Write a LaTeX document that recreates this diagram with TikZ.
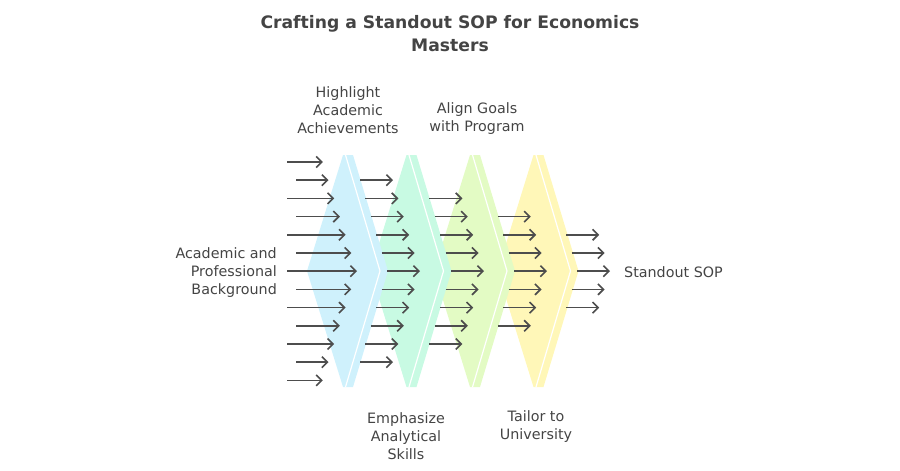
\documentclass[tikz,border=0pt]{standalone}
\usepackage{fontspec}
\setmainfont{DejaVu Sans}
\usetikzlibrary{arrows.meta}
\definecolor{txt}{HTML}{444444}
\definecolor{arr}{HTML}{4D4D4D}
\definecolor{cA}{HTML}{CFF1FC}
\definecolor{cB}{HTML}{C8FAE3}
\definecolor{cC}{HTML}{E3FBC4}
\definecolor{cD}{HTML}{FFF7B8}
\begin{document}
\begin{tikzpicture}[x=1pt,y=-1pt,
  flow/.style={draw=arr, line width=1.6pt, -{Straight Barb[length=5.5pt,width=11pt]}},
  lbl/.style={text=txt, font=\fontsize{14.3}{18}\selectfont, align=center, inner sep=0pt},
  ttl/.style={text=txt, font=\bfseries\fontsize{17.2}{23}\selectfont, align=center, inner sep=0pt}]
\useasboundingbox (0,0) rectangle (900,471);
% chevron shapes (last drawn first so earlier ones overlap)
\foreach \T/\c in {533.5/cD,470/cC,406.5/cB,343/cA}{
  \fill[\c] (\T,155) -- (\T+10,155) -- (\T+45,271) -- (\T+10,387) -- (\T,387) -- (\T-36,271) -- cycle;
  \draw[white, line width=1.2pt] (\T+2.5,155) -- (\T+37,271) -- (\T+2.5,387);
}
% column 1 arrows
\foreach \k in {0,...,12}{
  \pgfmathsetmacro\yy{162+18.2*\k}
  \pgfmathsetmacro\xs{isodd(\k)?296:287}
  \pgfmathsetmacro\xe{357-5.7*abs(\k-6)}
  \coordinate (s1-\k) at (\xs,\yy);
  \coordinate (e1-\k) at (\xe,\yy);
  \draw[flow] (s1-\k) -- (e1-\k);
}
% columns 2-5
\foreach \c/\kmin/\kmax/\xc in {2/1/11/387,3/2/10/451,4/3/9/514,5/4/8/577}{
  \foreach \k in {\kmin,...,\kmax}{
    \pgfmathsetmacro\yy{162+18.2*\k}
    \pgfmathsetmacro\xs{\xc-5.4*abs(\k-6)}
    \pgfmathsetmacro\xe{\xs+33}
    \coordinate (s\c-\k) at (\xs,\yy);
    \coordinate (e\c-\k) at (\xe,\yy);
    \draw[flow] (s\c-\k) -- (e\c-\k);
  }
}
% labels
\node[ttl] (title) at (450,33.5) {Crafting a Standout SOP for Economics\\Masters};
\node[lbl, anchor=east, align=right] (bg) at (277,273) {Academic and\\Professional\\Background};
\node[lbl, anchor=west] (out) at (624,272) {Standout SOP};
\node[lbl] (l1) at (348,110) {Highlight\\Academic\\Achievements};
\node[lbl] (l3) at (477,119) {Align Goals\\with Program};
\node[lbl] (l2) at (406,436) {Emphasize\\Analytical\\Skills};
\node[lbl] (l4) at (536,427) {Tailor to\\University};
\end{tikzpicture}
\end{document}
